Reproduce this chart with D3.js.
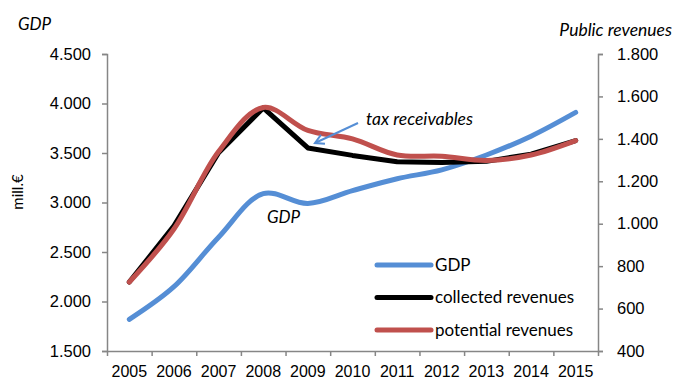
<!DOCTYPE html>
<html>
<head>
<meta charset="utf-8">
<script src="https://cdn.jsdelivr.net/npm/d3@7"></script>
<style>
  body { margin: 0; background: #fff; }
  svg { font-family: Lato, "Open Sans", sans-serif; }
  .axis path, .axis line { stroke: #868686; stroke-width: 1.5; }
  .axis text { font-size: 16.5px; fill: #000; }
  .xlab text { font-size: 16px; }
</style>
</head>
<body>
<div id="graph"></div>
<script>
var width = 676, height = 381

var years = ['2005', '2006', '2007', '2008', '2009', '2010', '2011', '2012', '2013', '2014', '2015']
var gdp = [1820, 2150, 2650, 3090, 2990, 3120, 3240, 3330, 3480, 3670, 3910]
var collected = [725, 990, 1335, 1546, 1357, 1322, 1292, 1288, 1294, 1328, 1392]
var potential = [725, 975, 1340, 1548, 1440, 1400, 1324, 1318, 1298, 1324, 1392]
var leftTicks = [1500, 2000, 2500, 3000, 3500, 4000, 4500]
var rightTicks = [400, 600, 800, 1000, 1200, 1400, 1600, 1800]

var series = [
  {name: 'GDP', values: gdp, axis: 'left', color: '#558ED5', curve: d3.curveCatmullRom},
  {name: 'collected revenues', values: collected, axis: 'right', color: '#000', curve: d3.curveLinear},
  {name: 'potential revenues', values: potential, axis: 'right', color: '#C0504D', curve: d3.curveCatmullRom}
]

var m = {left: 107, right: 598, top: 54, bottom: 351}

var fmt = d3.formatLocale({decimal: ',', thousands: '.', grouping: [3], currency: ['', '€']}).format(',')

var x = d3.scaleBand().domain(years).range([m.left, m.right])
var xEdge = d3.scaleLinear().domain([0, years.length]).range([m.left, m.right])
var yL = d3.scaleLinear().domain([1500, 4500]).range([m.bottom, m.top])
var yR = d3.scaleLinear().domain([400, 1800]).range([m.bottom, m.top])

var svg = d3.select('#graph').append('svg')
    .attr('width', width).attr('height', height)

svg.append('g').attr('class', 'axis')
    .attr('transform', 'translate(' + m.left + ',0)')
    .call(d3.axisLeft(yL).tickValues(leftTicks).tickFormat(fmt).tickSize(5).tickSizeOuter(5).tickPadding(11))

svg.append('g').attr('class', 'axis')
    .attr('transform', 'translate(' + m.right + ',0)')
    .call(d3.axisRight(yR).tickValues(rightTicks).tickFormat(fmt).tickSize(5).tickSizeOuter(5).tickPadding(14))

svg.append('g').attr('class', 'axis')
    .attr('transform', 'translate(0,' + m.bottom + ')')
    .call(d3.axisBottom(xEdge).tickValues(d3.range(years.length + 1)).tickFormat('').tickSize(5).tickSizeOuter(0))

var xl = svg.append('g').attr('class', 'axis xlab')
    .attr('transform', 'translate(0,' + m.bottom + ')')
    .call(d3.axisBottom(x).tickSize(0).tickPadding(15))
xl.select('.domain').remove()

// lines
series.forEach(function(s){
  var y = s.axis == 'left' ? yL : yR
  var line = d3.line()
      .x(function(d, i){ return x(years[i]) + x.bandwidth() / 2 })
      .y(function(d){ return y(d) })
      .curve(s.curve)
  svg.append('path')
      .datum(s.values)
      .attr('d', line)
      .attr('fill', 'none')
      .attr('stroke', s.color)
      .attr('stroke-width', 5)
      .attr('stroke-linecap', 'round')
      .attr('stroke-linejoin', 'round')
})

// legend
var leg = svg.append('g').selectAll('g').data(series).enter().append('g')
    .attr('transform', function(d, i){ return 'translate(377,' + (265 + i * 32.5) + ')' })
leg.append('line')
    .attr('x1', 0).attr('x2', 54)
    .attr('stroke', function(d){ return d.color })
    .attr('stroke-width', 5).attr('stroke-linecap', 'round')
leg.append('text')
    .attr('x', 58).attr('dy', '0.35em')
    .style('font-size', '17px')
    .text(function(d){ return d.name })

// titles
svg.append('text').attr('x', 18).attr('y', 30)
    .style('font-size', '17px').style('font-style', 'italic').text('GDP')
svg.append('text').attr('x', 672).attr('y', 36).attr('text-anchor', 'end')
    .style('font-size', '17.5px').style('font-style', 'italic').text('Public revenues')
svg.append('text').attr('transform', 'translate(23,192) rotate(-90)')
    .attr('text-anchor', 'middle')
    .style('font-size', '15px').text('mill.€')

// annotations
svg.append('text').attr('x', 366).attr('y', 125)
    .style('font-size', '17.5px').style('font-style', 'italic').text('tax receivables')
svg.append('text').attr('x', 267).attr('y', 223)
    .style('font-size', '17px').style('font-style', 'italic').text('GDP')

var ax0 = [358, 123], ax1 = [315, 143]
var ang = Math.atan2(ax1[1] - ax0[1], ax1[0] - ax0[0])
svg.append('line')
    .attr('x1', ax0[0]).attr('y1', ax0[1]).attr('x2', ax1[0]).attr('y2', ax1[1])
    .attr('stroke', '#558ED5').attr('stroke-width', 2)
var ah = 10
svg.append('path')
    .attr('d', 'M' + [ax1[0] - ah * Math.cos(ang - 0.5), ax1[1] - ah * Math.sin(ang - 0.5)]
      + 'L' + ax1 + 'L' + [ax1[0] - ah * Math.cos(ang + 0.5), ax1[1] - ah * Math.sin(ang + 0.5)])
    .attr('fill', 'none').attr('stroke', '#558ED5').attr('stroke-width', 2)
</script>
</body>
</html>
